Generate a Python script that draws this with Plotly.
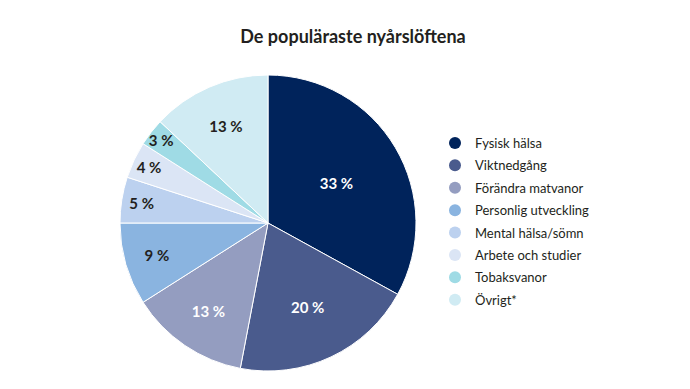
import plotly.graph_objects as go

categories = ["Fysisk hälsa", "Viktnedgång", "Förändra matvanor", "Personlig utveckling",
              "Mental hälsa/sömn", "Arbete och studier", "Tobaksvanor", "Övrigt*"]
values = [33, 20, 13, 9, 5, 4, 3, 13]
colors = ["#00235b", "#4a5b8d", "#949dc0", "#8ab4e0", "#bcd1ef", "#dbe5f5", "#9fdbe5", "#d0ebf3"]
text_colors = ["white", "white", "white", "#231f20", "#231f20", "#231f20", "#231f20", "#231f20"]

W, H = 690, 389
OFF = 8  # page body margin
cx, cy, r = 268 - OFF, 223 - OFF, 148

fig = go.Figure()
fig.add_trace(go.Pie(
    labels=categories, values=values, sort=False, direction="clockwise", rotation=0,
    marker=dict(colors=colors, line=dict(color="white", width=1)),
    texttemplate="<b>%{value} %</b>", textposition="inside", insidetextorientation="horizontal",
    textfont=dict(family="Lato", size=15, color=text_colors),
    showlegend=False, hoverinfo="label+percent",
    domain=dict(x=[(cx - r) / W, (cx + r) / W], y=[(H - cy - r) / H, (H - cy + r) / H]),
))
for c, col in zip(categories, colors):
    fig.add_trace(go.Scatter(x=[None], y=[None], mode="markers", name=c, legendgroup=c,
                             marker=dict(symbol="circle", size=13, color=col)))

fig.update_layout(
    width=W, height=H, margin=dict(l=0, r=0, t=0, b=0),
    paper_bgcolor="white", plot_bgcolor="white",
    uniformtext=dict(minsize=15, mode="show"),
    title=dict(text="<b>De populäraste nyårslöftena</b>", x=0.5, xanchor="center",
               y=1 - (37 - OFF) / H, yanchor="middle",
               font=dict(family="Lato", size=18, color="#231f20")),
    xaxis=dict(visible=False), yaxis=dict(visible=False),
    legend=dict(x=(435 - OFF) / W, y=1 - (128 - OFF) / H, xanchor="left", yanchor="top",
                font=dict(family="Lato", size=13, color="#231f20"),
                itemsizing="constant", tracegroupgap=2.5, bgcolor="rgba(0,0,0,0)"),
)
fig.write_html("out.html")
